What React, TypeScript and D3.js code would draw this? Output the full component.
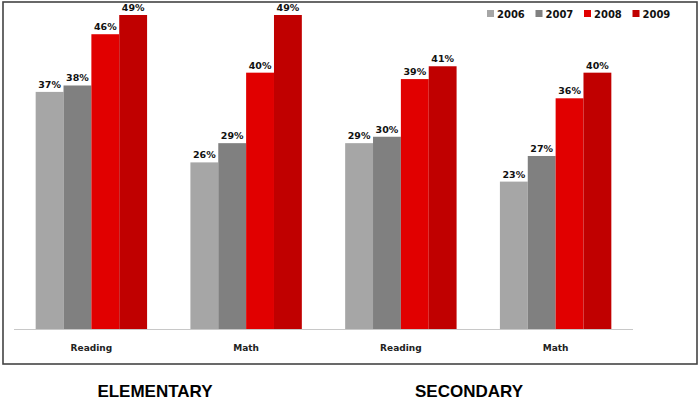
import React from "react";
import * as d3 from "d3";

const groups = ["Reading", "Math", "Reading", "Math"];
const years = ["2006", "2007", "2008", "2009"];
const colors = ["#a6a6a6", "#808080", "#e10000", "#c00000"];
const values2006 = [37, 26, 29, 23];
const values2007 = [38, 29, 30, 27];
const values2008 = [46, 40, 39, 36];
const values2009 = [49, 49, 41, 40];
const levels = ["ELEMENTARY", "SECONDARY"];

const series = [values2006, values2007, values2008, values2009];

export default function App() {
  const width = 700;
  const height = 402;
  const left = 14;
  const right = 633;
  const base = 329;

  const x0 = d3
    .scaleBand<number>()
    .domain(d3.range(groups.length))
    .range([left, right])
    .paddingInner(0.28)
    .paddingOuter(0.14);

  const x1 = d3.scaleBand<number>().domain(d3.range(years.length)).range([0, x0.bandwidth()]);

  const y = d3.scaleLinear().domain([0, 49]).range([base, 15]);

  const labelFont = "'DejaVu Sans', Verdana, sans-serif";

  return (
    <svg
      width={width}
      height={height}
      style={{ position: "absolute", left: 0, top: 0, background: "#fff" }}
    >
      <rect x={3} y={2} width={694} height={362} fill="#fff" stroke="#444" strokeWidth={1.6} />

      {groups.map((g, gi) => (
        <g key={gi} transform={`translate(${x0(gi)},0)`}>
          {series.map((vals, si) => (
            <g key={si}>
              <rect
                x={x1(si)}
                y={y(vals[gi])}
                width={x1.bandwidth()}
                height={base - y(vals[gi])}
                fill={colors[si]}
              />
              <text
                x={(x1(si) as number) + x1.bandwidth() / 2}
                y={y(vals[gi]) - 4}
                textAnchor="middle"
                fontFamily={labelFont}
                fontWeight="bold"
                fontSize={9.5}
                fill="#111"
              >
                {vals[gi]}%
              </text>
            </g>
          ))}
          <text
            x={x0.bandwidth() / 2}
            y={351}
            textAnchor="middle"
            fontFamily={labelFont}
            fontWeight="bold"
            fontSize={9}
            fill="#222"
          >
            {g}
          </text>
        </g>
      ))}

      <line x1={left} x2={right} y1={base + 0.5} y2={base + 0.5} stroke="#c8c8c8" strokeWidth={1} />

      {years.map((yr, i) => (
        <g key={yr} transform={`translate(${487 + i * 48.5},0)`}>
          <rect x={0} y={10} width={7} height={7} fill={colors[i]} />
          <text x={10} y={17.5} fontFamily={labelFont} fontWeight="bold" fontSize={10} fill="#111">
            {yr}
          </text>
        </g>
      ))}

      {levels.map((lv, i) => (
        <text
          key={lv}
          x={i === 0 ? 155 : 469}
          y={397}
          textAnchor="middle"
          fontFamily="'Liberation Sans', Arial, sans-serif"
          fontWeight="bold"
          fontSize={17}
          fill="#000"
        >
          {lv}
        </text>
      ))}
    </svg>
  );
}
